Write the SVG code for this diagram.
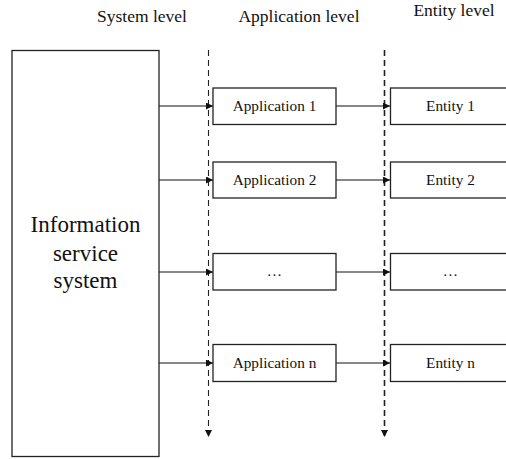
<svg xmlns="http://www.w3.org/2000/svg" width="506" height="459" viewBox="0 0 506 459">
<style>
text{font-family:'Liberation Serif','Times New Roman','DejaVu Serif',serif;fill:#111;text-anchor:middle}
.hdr{font-size:17.5px}
.lbl{font-size:15.3px}
.big{font-size:23px}
.box{fill:#fff;stroke:#222;stroke-width:1.3}
.conn{stroke:#111;stroke-width:1.2;fill:none}
.dash{stroke:#222;stroke-dasharray:6 4;fill:none}
</style>
<defs>
<marker id="ah" markerWidth="8" markerHeight="8" refX="7" refY="3.5" orient="auto" markerUnits="userSpaceOnUse">
<path d="M0,0 L7,3.5 L0,7 Z" fill="#111"/>
</marker>
</defs>
<rect width="506" height="459" fill="#fff"/>
<g id="headers">
<text class="hdr" x="142" y="22">System level</text>
<text class="hdr" x="299" y="22">Application level</text>
<text class="hdr" x="454" y="16">Entity level</text>
</g>
<g id="connectors">
<line class="dash" x1="208.5" y1="50" x2="208.5" y2="437" stroke-width="1.1" marker-end="url(#ah)"/>
<line class="dash" x1="384.5" y1="50" x2="384.5" y2="437" stroke-width="1.6" marker-end="url(#ah)"/>
<line class="conn" x1="159" y1="106" x2="213" y2="106" marker-end="url(#ah)"/>
<line class="conn" x1="159" y1="180" x2="213" y2="180" marker-end="url(#ah)"/>
<line class="conn" x1="159" y1="272" x2="213" y2="272" marker-end="url(#ah)"/>
<line class="conn" x1="159" y1="363" x2="213" y2="363" marker-end="url(#ah)"/>
<line class="conn" x1="336" y1="106" x2="390" y2="106" marker-end="url(#ah)"/>
<line class="conn" x1="336" y1="180" x2="390" y2="180" marker-end="url(#ah)"/>
<line class="conn" x1="336" y1="272" x2="390" y2="272" marker-end="url(#ah)"/>
<line class="conn" x1="336" y1="363" x2="390" y2="363" marker-end="url(#ah)"/>
</g>
<g id="info-system">
<rect class="box" x="12" y="50.5" width="147" height="406"/>
<text class="big" x="85.5" y="232">Information</text>
<text class="big" x="85.5" y="261">service</text>
<text class="big" x="85.5" y="288">system</text>
</g>
<g id="app1">
<rect class="box" x="213" y="88" width="123" height="36.5"/>
<text class="lbl" x="274.5" y="111">Application 1</text>
</g>
<g id="app2">
<rect class="box" x="213" y="162" width="123" height="36"/>
<text class="lbl" x="274.5" y="185">Application 2</text>
</g>
<g id="app3">
<rect class="box" x="213" y="253.5" width="123" height="36.5"/>
<text class="lbl" x="274.5" y="276">…</text>
</g>
<g id="appn">
<rect class="box" x="213" y="344.5" width="123" height="37"/>
<text class="lbl" x="274.5" y="368">Application n</text>
</g>
<g id="entity1">
<rect class="box" x="390.5" y="88" width="122" height="36.5"/>
<text class="lbl" x="450.5" y="111">Entity 1</text>
</g>
<g id="entity2">
<rect class="box" x="390.5" y="162" width="122" height="36"/>
<text class="lbl" x="450.5" y="185">Entity 2</text>
</g>
<g id="entity3">
<rect class="box" x="390.5" y="253.5" width="122" height="36.5"/>
<text class="lbl" x="450.5" y="276">…</text>
</g>
<g id="entityn">
<rect class="box" x="390.5" y="344.5" width="122" height="37"/>
<text class="lbl" x="450.5" y="368">Entity n</text>
</g>
</svg>
